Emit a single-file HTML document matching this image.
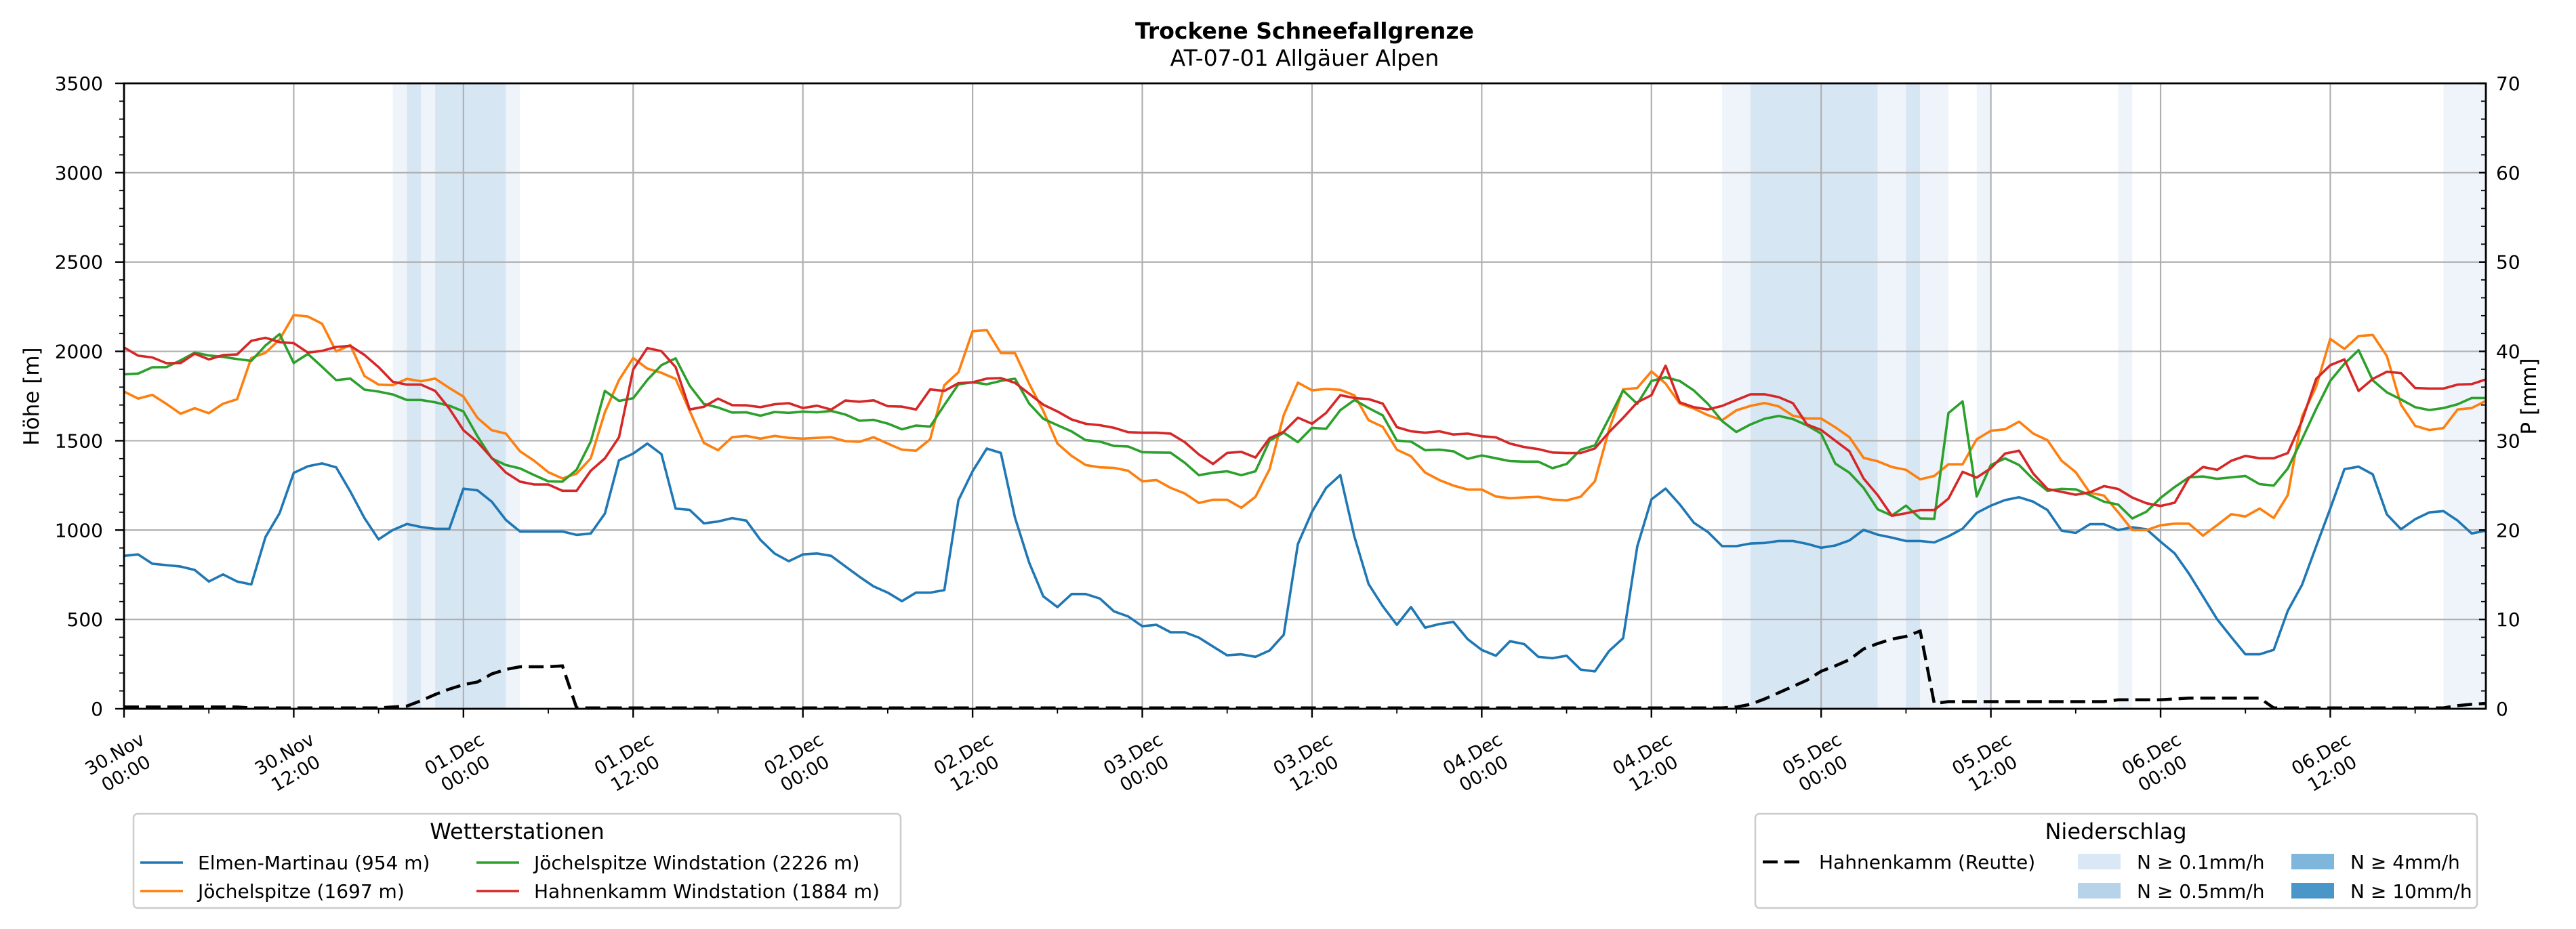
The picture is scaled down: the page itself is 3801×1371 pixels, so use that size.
<!DOCTYPE html>
<html><head><meta charset="utf-8"><style>
html,body{margin:0;padding:0;background:#fff;}
svg{display:block;font-family:"DejaVu Sans","Liberation Sans",sans-serif;}
</style></head><body>
<svg id="chart" xmlns="http://www.w3.org/2000/svg" width="3801" height="1371" viewBox="0 0 3801 1371">
<rect x="0" y="0" width="3801" height="1371" fill="#fff"/>
<text x="1925" y="57" text-anchor="middle" font-size="33" font-weight="bold">Trockene Schneefallgrenze</text>
<text x="1925" y="97" text-anchor="middle" font-size="33">AT-07-01 Allgäuer Alpen</text>
<g id="bands"></g><g id="grid"></g><g id="series"></g><g id="axes"></g><g id="legends"></g>
</svg>
<script>
const hours = 168;
const elmen = [856,864,812,804,796,777,712,752,712,696,961,1095,1320,1357,1373,1351,1216,1067,948,1000,1034,1017,1007,1007,1232,
1222,1159,1057,992,992,992,992,973,981,1092,1391,1428,1484,1425,1120,1113,1038,1048,1067,1053,945,869,826,864,
869,856,797,739,685,650,602,650,650,664,1167,1329,1456,1432,1069,818,629,569,642,642,617,545,517,462,
470,428,428,398,348,299,305,291,326,414,922,1102,1236,1308,963,698,574,470,569,454,474,486,390,329,
297,378,362,291,283,297,219,209,323,395,909,1172,1232,1144,1041,989,910,910,925,928,939,939,923,901,
914,942,1001,974,958,939,939,931,965,1008,1096,1137,1168,1184,1159,1112,997,984,1033,1033,1000,1016,1005,935,
869,757,629,501,401,305,305,330,549,693,909,1120,1341,1355,1312,1088,1005,1061,1099,1106,1053,981,997];
const joechel = [1775,1736,1757,1706,1651,1682,1654,1707,1732,1963,1992,2067,2203,2195,2155,2000,2035,1862,1814,1811,1846,1833,1848,1795,1747,
1627,1559,1540,1441,1388,1324,1289,1316,1402,1659,1840,1963,1904,1880,1846,1667,1488,1447,1520,1527,1512,1527,1516,1512,
1516,1520,1498,1494,1520,1484,1450,1444,1508,1811,1883,2113,2119,1991,1990,1819,1667,1484,1415,1364,1351,1348,1332,1273,
1280,1236,1205,1152,1170,1170,1125,1186,1341,1643,1825,1782,1790,1785,1754,1615,1578,1450,1413,1322,1280,1249,1227,1227,
1188,1178,1183,1186,1171,1166,1187,1273,1562,1787,1795,1888,1820,1708,1680,1643,1615,1670,1695,1711,1692,1640,1624,1624,
1575,1520,1404,1385,1353,1337,1284,1303,1368,1368,1508,1556,1564,1607,1540,1503,1388,1324,1209,1193,1100,1000,1000,1027,
1036,1036,969,1028,1089,1076,1121,1068,1196,1635,1803,2070,2014,2086,2092,1974,1702,1583,1560,1571,1675,1683,1723];
const joechelWind = [1872,1876,1911,1912,1950,1993,1977,1969,1957,1947,2033,2097,1935,1986,1914,1839,1848,1786,1775,1759,1728,1728,1715,1696,1664,
1524,1401,1364,1345,1308,1273,1271,1338,1495,1779,1723,1738,1840,1923,1961,1808,1706,1686,1658,1659,1640,1661,1656,1663,
1659,1667,1647,1612,1617,1596,1564,1585,1579,1700,1816,1827,1816,1835,1847,1708,1623,1587,1552,1503,1495,1471,1468,1436,
1434,1433,1377,1307,1321,1329,1307,1329,1500,1545,1492,1572,1567,1671,1728,1683,1642,1501,1495,1447,1450,1441,1399,1418,
1402,1386,1383,1383,1346,1370,1450,1474,1626,1781,1706,1834,1855,1834,1781,1706,1610,1549,1591,1623,1639,1621,1586,1540,
1372,1321,1236,1116,1081,1137,1065,1063,1655,1720,1188,1364,1401,1364,1284,1220,1231,1228,1196,1159,1143,1065,1103,1180,
1241,1295,1300,1287,1295,1303,1257,1249,1345,1508,1678,1835,1931,2007,1838,1771,1731,1688,1672,1683,1704,1739,1739];
const hahnenWind = [2022,1976,1966,1934,1935,1987,1955,1979,1983,2059,2076,2052,2046,1993,2003,2025,2031,1980,1912,1830,1814,1814,1779,1680,1559,
1492,1404,1322,1271,1255,1255,1220,1220,1332,1401,1520,1899,2019,2001,1912,1675,1690,1736,1699,1698,1688,1704,1710,1683,
1696,1674,1725,1718,1726,1693,1691,1675,1787,1779,1822,1827,1848,1850,1824,1763,1702,1664,1619,1595,1587,1572,1548,1545,
1545,1540,1492,1423,1370,1432,1438,1406,1514,1550,1629,1595,1656,1755,1739,1733,1708,1576,1553,1545,1553,1535,1540,1525,
1519,1484,1465,1453,1434,1431,1431,1457,1548,1628,1715,1755,1920,1715,1688,1675,1695,1728,1760,1760,1744,1710,1591,1560,
1500,1441,1289,1195,1080,1094,1112,1112,1176,1326,1294,1346,1428,1444,1316,1230,1214,1198,1211,1246,1230,1182,1150,1135,
1153,1292,1353,1337,1388,1415,1402,1402,1431,1611,1846,1923,1955,1779,1846,1886,1878,1795,1792,1792,1814,1817,1843];
const precip = [0.2,0.2,0.2,0.2,0.2,0.2,0.2,0.2,0.2,0.1,0.1,0.1,0.1,0.1,0.1,0.1,0.1,0.1,0.1,0.2,0.3,0.9,1.6,2.2,2.7,
3.0,3.9,4.4,4.7,4.7,4.7,4.8,0.1,0.1,0.1,0.1,0.1,0.1,0.1,0.1,0.1,0.1,0.1,0.1,0.1,0.1,0.1,0.1,0.1,
0.1,0.1,0.1,0.1,0.1,0.1,0.1,0.1,0.1,0.1,0.1,0.1,0.1,0.1,0.1,0.1,0.1,0.1,0.1,0.1,0.1,0.1,0.1,0.1,
0.1,0.1,0.1,0.1,0.1,0.1,0.1,0.1,0.1,0.1,0.1,0.1,0.1,0.1,0.1,0.1,0.1,0.1,0.1,0.1,0.1,0.1,0.1,0.1,
0.1,0.1,0.1,0.1,0.1,0.1,0.1,0.1,0.1,0.1,0.1,0.1,0.1,0.1,0.1,0.1,0.1,0.2,0.5,1.1,1.8,2.5,3.2,4.2,
4.8,5.5,6.7,7.3,7.8,8.1,8.7,0.6,0.8,0.8,0.8,0.8,0.8,0.8,0.8,0.8,0.8,0.8,0.8,0.8,1.0,1.0,1.0,1.0,
1.1,1.2,1.2,1.2,1.2,1.2,1.2,0.1,0.1,0.1,0.1,0.1,0.1,0.1,0.1,0.1,0.1,0.1,0.1,0.1,0.35,0.5,0.6];
const bandStart = [19,20,21,22,27,113,115,124,126,127,131,141,164];
const bandEnd   = [20,21,22,27,28,115,124,126,127,129,132,142,167];
const bandLevel = [0,1,0,1,0,0,1,0,1,0,0,0,0];
const xTickDates = ["30.Nov","30.Nov","01.Dec","01.Dec","02.Dec","02.Dec","03.Dec","03.Dec","04.Dec","04.Dec","05.Dec","05.Dec","06.Dec","06.Dec"];
const xTickTimes = ["00:00","12:00","00:00","12:00","00:00","12:00","00:00","12:00","00:00","12:00","00:00","12:00","00:00","12:00"];
const yTicks = [0,500,1000,1500,2000,2500,3000,3500];
const pTicks = [0,10,20,30,40,50,60,70];

const NS="http://www.w3.org/2000/svg";
const L=183,R=3668,T=123,B=1046;
const HMAX=167, YMAX=3500, PMAX=70;
const xs=h=>L+h*(R-L)/HMAX;
const ys=v=>B-v*(B-T)/YMAX;
const ps=p=>B-p*(B-T)/PMAX;
function mk(tag,attrs,parent){const e=document.createElementNS(NS,tag);for(const k in attrs)e.setAttribute(k,attrs[k]);parent.appendChild(e);return e;}
const gB=document.getElementById('bands'),gG=document.getElementById('grid'),gS=document.getElementById('series'),gA=document.getElementById('axes'),gL=document.getElementById('legends');
const bandCol=['#eef4fa','#d7e6f3'];
bandStart.forEach((s,i)=>{
  const r=mk('rect',{x:xs(s),y:T,width:xs(bandEnd[i])-xs(s),height:B-T,fill:bandCol[bandLevel[i]]},gB);
  
  
});
yTicks.forEach(v=>{
  const g=mk('line',{x1:L,x2:R,y1:ys(v),y2:ys(v),stroke:'#b0b0b0','stroke-width':2.2},gG);
  
  
});
xTickDates.forEach((d,i)=>{
  const x=xs(i*12);
  const g=mk('line',{x1:x,x2:x,y1:T,y2:B,stroke:'#b0b0b0','stroke-width':2.2},gG);
  
  
});
const seriesList=[[elmen,'#1f77b4','series-elmen-martinau'],[joechel,'#ff7f0e','series-joechelspitze'],[joechelWind,'#2ca02c','series-joechelspitze-wind'],[hahnenWind,'#d62728','series-hahnenkamm-wind']];
seriesList.forEach(s=>{
  const pts=s[0].map((v,h)=>xs(h).toFixed(1)+','+ys(v).toFixed(1)).join(' ');
  const p=mk('polyline',{points:pts,fill:'none',stroke:s[1],'stroke-width':3.6,'stroke-linejoin':'round'},gS);
  
  
});
const pp=mk('polyline',{points:precip.map((v,h)=>xs(h).toFixed(1)+','+ps(v).toFixed(1)).join(' '),fill:'none',stroke:'#000','stroke-width':4.5,'stroke-dasharray':'22 10'},gS);


// frame
const fr=mk('rect',{x:L,y:T,width:R-L,height:B-T,fill:'none',stroke:'#000','stroke-width':2.8},gA);


// left ticks
for(let v=0;v<=YMAX;v+=100){
  const maj=v%500===0;
  const t=mk('line',{x1:L,x2:L-(maj?13:7),y1:ys(v),y2:ys(v),stroke:'#000','stroke-width':maj?2.4:1.8},gA);
  
  
}
yTicks.forEach(v=>{
  const t=mk('text',{x:152,y:ys(v)+10,'text-anchor':'end','font-size':28},gA);
  t.textContent=v;
  
  
});
for(let p=0;p<=PMAX;p+=2){
  const maj=p%10===0;
  const t=mk('line',{x1:R,x2:R-(maj?10:7),y1:ps(p),y2:ps(p),stroke:'#000','stroke-width':maj?2.4:1.8},gA);
  
  
}
pTicks.forEach(p=>{
  const t=mk('text',{x:3683,y:ps(p)+10,'font-size':28},gA);
  t.textContent=p;
  
  
});
for(let h=0;h<=HMAX;h+=6){
  const maj=h%12===0;
  const t=mk('line',{x1:xs(h),x2:xs(h),y1:B,y2:B+(maj?13:7),stroke:'#000','stroke-width':maj?2.4:1.8},gA);
  
  
}
xTickDates.forEach((d,i)=>{
  const g=mk('g',{transform:'translate('+(xs(i*12)-6)+',1126) rotate(-30)'},gA);
  
  
  const t1=mk('text',{x:0,y:-6,'text-anchor':'middle','font-size':27},g);t1.textContent=d;
  const t2=mk('text',{x:0,y:27,'text-anchor':'middle','font-size':27},g);t2.textContent=xTickTimes[i];
});
const yl=mk('text',{transform:'translate(57,585) rotate(-90)','text-anchor':'middle','font-size':31},gA);
yl.textContent='Höhe [m]';


const pl=mk('text',{transform:'translate(3742,585) rotate(-90)','text-anchor':'middle','font-size':31},gA);
pl.textContent='P [mm]';


// legends
function box(x,y,w,h,name){const r=mk('rect',{x:x,y:y,width:w,height:h,rx:6,fill:'#fff',stroke:'#cccccc','stroke-width':2.5},gL);}
function txt(x,y,s,size,name,anchor){const t=mk('text',{x:x,y:y,'font-size':size,'text-anchor':anchor||'start'},gL);t.textContent=s;}
box(197,1201,1132,139,'legend-wetterstationen');
txt(763,1238,'Wetterstationen',32,'legend-title-wetterstationen','middle');
const lEntries=[[207,1273,'#1f77b4','Elmen-Martinau (954 m)'],[207,1315,'#ff7f0e','Jöchelspitze (1697 m)'],[703,1273,'#2ca02c','Jöchelspitze Windstation (2226 m)'],[703,1315,'#d62728','Hahnenkamm Windstation (1884 m)']];
lEntries.forEach(e=>{
  const ln=mk('line',{x1:e[0],x2:e[0]+63,y1:e[1],y2:e[1],stroke:e[2],'stroke-width':3.6},gL);
  
  
  txt(e[0]+85,e[1]+10,e[3],28,'legend-entry-label');
});
box(2590,1201,1065,139,'legend-niederschlag');
txt(3122,1238,'Niederschlag',32,'legend-title-niederschlag','middle');
const dl=mk('line',{x1:2601,x2:2660,y1:1272,y2:1272,stroke:'#000','stroke-width':4.5,'stroke-dasharray':'22 10'},gL);


txt(2684,1282,'Hahnenkamm (Reutte)',28,'legend-entry-label');
const patches=[[3066,1260,'#dae8f5','N ≥ 0.1mm/h'],[3066,1303,'#b7d3ea','N ≥ 0.5mm/h'],[3381,1260,'#7fb6db','N ≥ 4mm/h'],[3381,1303,'#4a96c9','N ≥ 10mm/h']];
patches.forEach(p=>{
  const r=mk('rect',{x:p[0],y:p[1],width:63,height:23,fill:p[2]},gL);
  
  
  txt(p[0]+87,p[1]+22,p[3],28,'legend-entry-label');
});
</script>
</body></html>
